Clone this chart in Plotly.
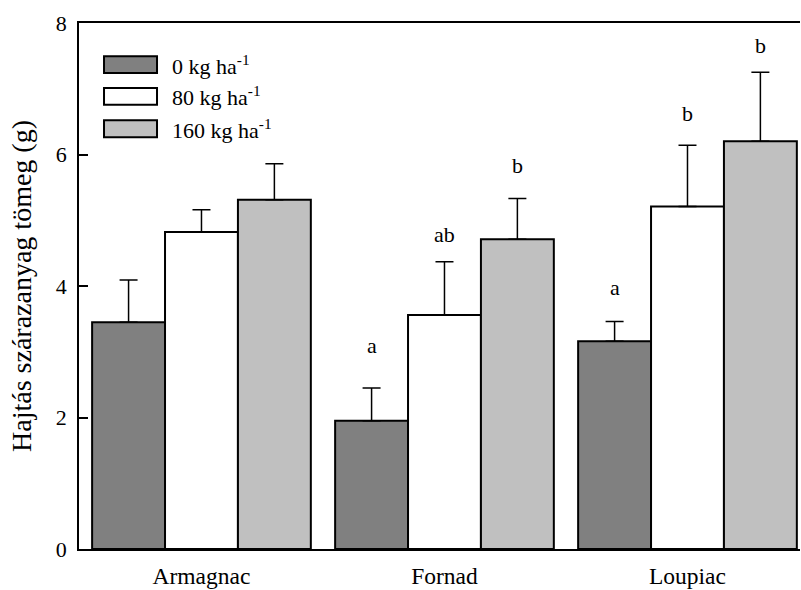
import plotly.graph_objects as go

categories = ["Armagnac", "Fornad", "Loupiac"]
series_names = ["0 kg ha<sup>-1</sup>", "80 kg ha<sup>-1</sup>", "160 kg ha<sup>-1</sup>"]
series_colors = ["#808080", "#ffffff", "#c0c0c0"]
values_0 = [3.45, 1.95, 3.16]
values_80 = [4.82, 3.56, 5.21]
values_160 = [5.31, 4.71, 6.20]
err_0 = [0.64, 0.50, 0.30]
err_80 = [0.34, 0.81, 0.93]
err_160 = [0.55, 0.62, 1.05]
# significance letters (per series, per category) and their heights
letters_0 = ["", "a", "a"]
letters_80 = ["", "ab", "b"]
letters_160 = ["", "b", "b"]
letter_y_0 = [None, 3.10, 3.97]
letter_y_80 = [None, 4.79, 6.63]
letter_y_160 = [None, 5.83, 7.66]
y_ticks = [0, 2, 4, 6, 8]
y_title = "Hajtás szárazanyag tömeg (g)"

values = [values_0, values_80, values_160]
errors = [err_0, err_80, err_160]
letters = [letters_0, letters_80, letters_160]
letter_ys = [letter_y_0, letter_y_80, letter_y_160]

FONT = "Liberation Serif"
fig = go.Figure()
for name, col, v, e in zip(series_names, series_colors, values, errors):
    fig.add_trace(go.Bar(
        x=categories, y=v, name=name,
        marker=dict(color=col, line=dict(color="black", width=2)),
        error_y=dict(type="data", array=e, arrayminus=[0] * len(e), symmetric=False,
                     color="black", thickness=1.5, width=9),
        showlegend=False,
    ))

annotations = []
offsets = [-0.3, 0.0, 0.3]
for s in range(3):
    for i, cat in enumerate(categories):
        if letters[s][i]:
            annotations.append(dict(
                x=i + offsets[s], y=letter_ys[s][i], xref="x", yref="y",
                text=letters[s][i], showarrow=False, yanchor="middle",
                font=dict(family=FONT, size=22, color="black")))

# legend drawn as boxes + labels (paper coords)
shapes = []
leg_y = [0.9208, 0.8604, 0.799]
for s in range(3):
    shapes.append(dict(type="rect", xref="paper", yref="paper",
                       x0=0.0347, x1=0.1082, y0=leg_y[s] - 0.016, y1=leg_y[s] + 0.016,
                       fillcolor=series_colors[s], line=dict(color="black", width=2)))
    annotations.append(dict(x=0.1262, y=leg_y[s], xref="paper", yref="paper",
                            text=series_names[s], showarrow=False, xanchor="left",
                            yanchor="middle", font=dict(family=FONT, size=22, color="black")))

annotations.append(dict(x=-0.0805, y=0.5, xref="paper", yref="paper", text=y_title,
                        textangle=-90, showarrow=False, xanchor="center", yanchor="middle",
                        font=dict(family=FONT, size=28, color="black")))

fig.update_layout(
    width=801, height=590,
    margin=dict(l=79, r=1, t=23, b=37),
    paper_bgcolor="white", plot_bgcolor="white",
    barmode="group", bargap=0.1, bargroupgap=0,
    font=dict(family=FONT, size=22, color="black"),
    annotations=annotations, shapes=shapes,
    xaxis=dict(range=[-0.504, 2.463], showline=True, linecolor="black", linewidth=2,
               mirror=True, ticks="", showgrid=False, zeroline=False,
               tickfont=dict(family=FONT, size=23.5), ticklabelstandoff=5),
    yaxis=dict(range=[0, 8], tickvals=y_ticks, showline=True, linecolor="black",
               linewidth=1.5, ticks="inside", ticklen=9, tickwidth=1.5, tickcolor="black",
               showgrid=False, zeroline=False, tickfont=dict(family=FONT, size=22),
               ticklabelstandoff=6),
)

fig.write_html("out.html")
